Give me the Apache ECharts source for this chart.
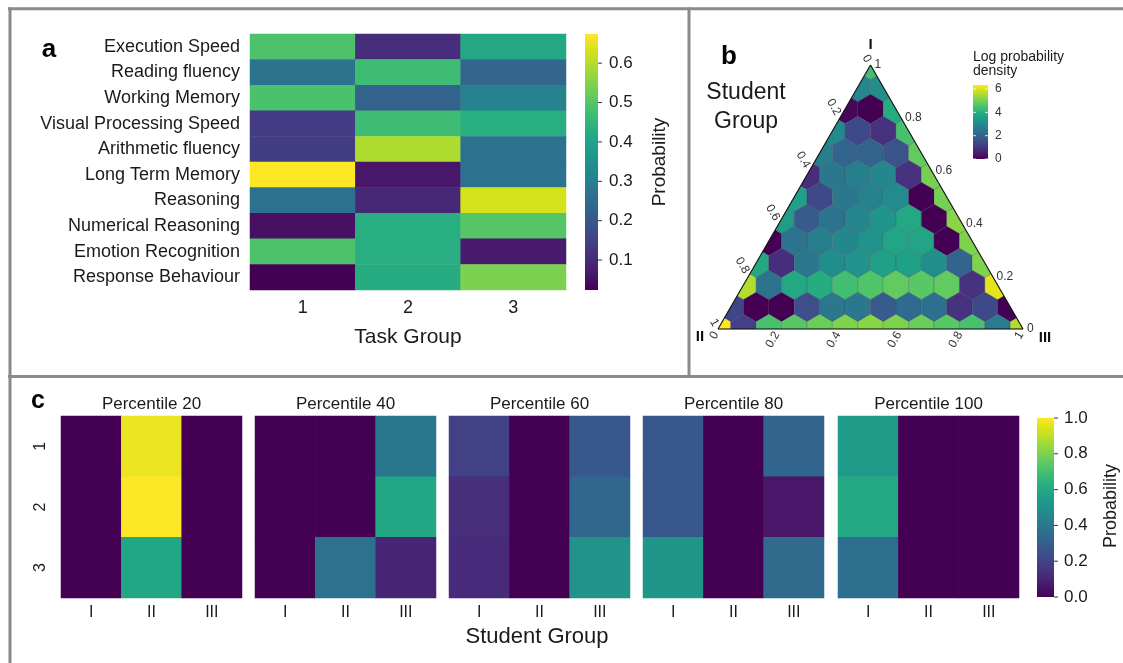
<!DOCTYPE html>
<html><head><meta charset="utf-8">
<script src="https://cdn.jsdelivr.net/npm/echarts@6/dist/echarts.min.js"></script>
<style>html,body{margin:0;padding:0;background:#fff}#c{width:1123px;height:663px}</style>
</head><body><div id="c"></div>
<script>
const FONT = "'Liberation Sans', Arial, Helvetica, sans-serif";
const TXT = '#1a1a1a';
const viridis = ['#440154','#48186a','#472d7b','#424086','#3b528b','#33638d','#2c728e','#26828e','#21918c','#1fa088','#28ae80','#3fbc73','#5ec962','#84d44b','#addc30','#d8e219','#fde725'];

// ---------- Panel a ----------
const abilities = ['Execution Speed','Reading fluency','Working Memory','Visual Processing Speed','Arithmetic fluency','Long Term Memory','Reasoning','Numerical Reasoning','Emotion Recognition','Response Behaviour'];
const taskGroups = ['1','2','3'];
const taskGroup1 = [0.49, 0.27, 0.485, 0.135, 0.14, 0.674, 0.268, 0.05, 0.49, 0.024];
const taskGroup2 = [0.105, 0.47, 0.225, 0.47, 0.593, 0.063, 0.095, 0.43, 0.43, 0.425];
const taskGroup3 = [0.41, 0.235, 0.31, 0.43, 0.268, 0.268, 0.63, 0.50, 0.07, 0.544];
const taskCbarRange = [0.024, 0.674];
const taskCbarTicks = [0.1, 0.2, 0.3, 0.4, 0.5, 0.6];

// ---------- Panel b ----------
const ternaryVertices = ['I','II','III'];
const ternaryTicks = [0, 0.2, 0.4, 0.6, 0.8, 1];
const hexSteps = 12;
// rows from vertex I (top) down to edge II-III; left to right
const hexLogDensity = [
 [4.4],
 [2.9, 3.1],
 [0.1, 0.0, 3.9],
 [3.0, 1.4, 0.9, 4.5],
 [2.7, 2.0, 2.0, 1.6, 4.8],
 [0.8, 2.5, 2.7, 2.9, 0.9, 5.0],
 [3.6, 1.4, 2.5, 2.8, 3.0, 0.0, 5.0],
 [3.5, 1.8, 2.4, 2.9, 3.3, 3.8, 0.0, 5.2],
 [0.0, 2.4, 2.7, 2.9, 3.2, 3.7, 3.7, 0.0, 5.1],
 [3.8, 0.8, 2.5, 3.1, 3.2, 3.6, 3.6, 3.1, 2.0, 5.1],
 [5.6, 2.4, 3.8, 3.9, 4.4, 4.6, 4.8, 4.7, 4.8, 0.9, 6.1],
 [1.3, 0.0, 0.0, 1.5, 2.5, 2.5, 1.8, 2.2, 2.3, 0.9, 1.4, 0.0],
 [6.4, 1.2, 4.5, 4.7, 4.9, 5.1, 5.2, 5.1, 4.9, 4.7, 4.5, 2.6, 5.6]
];
const hexCbarRange = [0, 6.35];
const hexCbarTicks = [0, 2, 4, 6];

// ---------- Panel c ----------
const percentiles = ['Percentile 20','Percentile 40','Percentile 60','Percentile 80','Percentile 100'];
const studentGroups = ['I','II','III'];
const taskRows = ['1','2','3'];
// [task group row][student group col]
const pct20 = [[0, 0.97, 0],[0, 1.0, 0],[0, 0.59, 0]];
const pct40 = [[0, 0, 0.40],[0, 0, 0.59],[0, 0.37, 0.10]];
const pct60 = [[0.19, 0, 0.27],[0.13, 0, 0.33],[0.12, 0, 0.51]];
const pct80 = [[0.27, 0, 0.32],[0.27, 0, 0.06],[0.52, 0, 0.34]];
const pct100 = [[0.54, 0, 0],[0.60, 0, 0],[0.36, 0, 0]];
const pctCbarRange = [0, 1];
const pctCbarTicks = [0, 0.2, 0.4, 0.6, 0.8, 1.0];

// ---------- helpers ----------
function tern(I, II, III) { return [III + I / 2, I]; }
function gradient() {
  return new echarts.graphic.LinearGradient(0, 1, 0, 0,
    viridis.map((c, i) => ({ offset: i / (viridis.length - 1), color: c })));
}
function clipPoly(subject, clip) {
  let out = subject;
  const cx = (clip[0][0] + clip[1][0] + clip[2][0]) / 3, cy = (clip[0][1] + clip[1][1] + clip[2][1]) / 3;
  for (let i = 0; i < clip.length; i++) {
    const a = clip[i], b = clip[(i + 1) % clip.length];
    const side = p => (b[0] - a[0]) * (p[1] - a[1]) - (b[1] - a[1]) * (p[0] - a[0]);
    const s0 = Math.sign(side([cx, cy]));
    const input = out; out = [];
    for (let j = 0; j < input.length; j++) {
      const P = input[j], Q = input[(j + 1) % input.length];
      const sp = side(P) * s0, sq = side(Q) * s0;
      if (sp >= 0) out.push(P);
      if ((sp >= 0) !== (sq >= 0)) {
        const t = sp / (sp - sq);
        out.push([P[0] + t * (Q[0] - P[0]), P[1] + t * (Q[1] - P[1])]);
      }
    }
    if (!out.length) break;
  }
  return out;
}
function colorbarSeries(xi, range) {
  return {
    type: 'custom', xAxisIndex: xi, yAxisIndex: xi, silent: true, clip: false,
    data: [[0, range[0], range[1]]],
    renderItem: (p, api) => {
      const t = api.coord([0, api.value(2)]), b = api.coord([1, api.value(1)]);
      return { type: 'rect', shape: { x: t[0], y: t[1], width: b[0] - t[0], height: b[1] - t[1] }, style: { fill: gradient() } };
    }
  };
}
function tickSeries(xi, ticks, opts) {
  return {
    type: 'custom', xAxisIndex: xi, yAxisIndex: xi, silent: true, clip: false,
    data: ticks.map(v => [v]),
    renderItem: (p, api) => {
      const v = api.value(0);
      const r = api.coord([1, v]), l = api.coord([0, v]);
      const kids = [];
      if (opts.inside) {
        const w = (r[0] - l[0]) / 5;
        kids.push({ type: 'line', shape: { x1: l[0], y1: l[1], x2: l[0] + w, y2: l[1] }, style: { stroke: 'rgba(255,255,255,0.8)', lineWidth: 1 } });
        kids.push({ type: 'line', shape: { x1: r[0] - w, y1: r[1], x2: r[0], y2: r[1] }, style: { stroke: 'rgba(255,255,255,0.8)', lineWidth: 1 } });
      } else {
        kids.push({ type: 'line', shape: { x1: r[0], y1: r[1], x2: r[0] + 4, y2: r[1] }, style: { stroke: '#333', lineWidth: 1 } });
      }
      kids.push({ type: 'text', x: r[0] + opts.gap, y: r[1], style: { text: opts.fmt(v), fontSize: opts.size, fontFamily: FONT, fill: opts.color || TXT, align: 'left', verticalAlign: 'middle' } });
      return { type: 'group', children: kids };
    }
  };
}

// ---------- layout ----------
const pctLefts = [61, 255, 449, 643, 838];
const grids = [
  { left: 250, top: 34, width: 316, height: 256 },
  { left: 585, top: 34, width: 13, height: 256 },
  { left: 718, top: 65, width: 305, height: 264 },
  { left: 973, top: 85, width: 15, height: 74 },
  ...pctLefts.map(l => ({ left: l, top: 416, width: 181, height: 182 })),
  { left: 1037, top: 418, width: 17, height: 179 }
].map(g => Object.assign({ outerBoundsMode: 'none', containLabel: false, show: false }, g));

const hidden = (gi, min, max) => ({ gridIndex: gi, type: 'value', min, max, show: false, splitLine: { show: false } });
const catAxis = (gi, data, extra) => Object.assign({
  gridIndex: gi, type: 'category', data,
  axisLine: { show: false }, axisTick: { show: false }, splitLine: { show: false }
}, extra);

const xAxes = [
  catAxis(0, taskGroups, { axisLabel: { fontSize: 18, margin: 9, color: TXT, fontFamily: FONT } }),
  hidden(1, 0, 1), hidden(2, 0, 1), hidden(3, 0, 1),
  ...pctLefts.map((l, i) => catAxis(4 + i, studentGroups, { axisLabel: { fontSize: 16, margin: 7, color: TXT, fontFamily: FONT } })),
  hidden(9, 0, 1)
];
const yAxes = [
  catAxis(0, abilities, { inverse: true, axisLabel: { fontSize: 18, margin: 10, color: TXT, fontFamily: FONT } }),
  hidden(1, taskCbarRange[0], taskCbarRange[1]), hidden(2, 0, 1), hidden(3, hexCbarRange[0], hexCbarRange[1]),
  ...pctLefts.map((l, i) => catAxis(4 + i, taskRows, { inverse: true, axisLabel: { show: i === 0, rotate: 90, fontSize: 16, margin: 12, color: TXT, fontFamily: FONT } })),
  hidden(9, pctCbarRange[0], pctCbarRange[1])
];

// ---------- data ----------
const taskCols = [taskGroup1, taskGroup2, taskGroup3];
const heatA = [];
taskCols.forEach((col, g) => col.forEach((v, j) => heatA.push([g, j, v])));

const hexData = [];
hexLogDensity.forEach((row, r) => row.forEach((v, k) => {
  const I = (hexSteps - r) / hexSteps, III = k / hexSteps, II = (r - k) / hexSteps;
  const xy = tern(I, II, III);
  hexData.push([xy[0], xy[1], v]);
}));
const corners = [tern(1, 0, 0), tern(0, 1, 0), tern(0, 0, 1)];
const pctAll = [pct20, pct40, pct60, pct80, pct100];

const series = [];
series.push({ type: 'heatmap', xAxisIndex: 0, yAxisIndex: 0, data: heatA, emphasis: { disabled: true }, itemStyle: { borderWidth: 0 } });
series.push(colorbarSeries(1, taskCbarRange));
series.push(tickSeries(1, taskCbarTicks, { gap: 11, size: 17, fmt: v => v.toFixed(1) }));
// hexbins (index 3)
series.push({
  type: 'custom', xAxisIndex: 2, yAxisIndex: 2, silent: true, clip: false, data: hexData,
  renderItem: (p, api) => {
    const c = api.coord([api.value(0), api.value(1)]);
    const d = api.size([1 / hexSteps, 0])[0];
    const R = d / Math.sqrt(3);
    const hex = [[c[0], c[1] - R], [c[0] + d / 2, c[1] - R / 2], [c[0] + d / 2, c[1] + R / 2], [c[0], c[1] + R], [c[0] - d / 2, c[1] + R / 2], [c[0] - d / 2, c[1] - R / 2]];
    const tri = corners.map(q => api.coord(q));
    return { type: 'polygon', shape: { points: clipPoly(hex, tri) }, style: { fill: api.visual('color'), stroke: 'rgba(40,40,60,0.3)', lineWidth: 0.7 } };
  }
});
// triangle outline + vertex names
const vertexOffsets = [[0, -20], [-18, 8], [22, 9]];
series.push({
  type: 'custom', xAxisIndex: 2, yAxisIndex: 2, silent: true, clip: false,
  data: ternaryVertices.map((n, i) => [i]),
  renderItem: (p, api) => {
    const i = api.value(0);
    const a = api.coord(corners[i]), b = api.coord(corners[(i + 1) % 3]);
    return { type: 'group', children: [
      { type: 'line', shape: { x1: a[0], y1: a[1], x2: b[0], y2: b[1] }, style: { stroke: '#111', lineWidth: 1.1 } },
      { type: 'text', x: a[0] + vertexOffsets[i][0], y: a[1] + vertexOffsets[i][1], style: { text: ternaryVertices[i], fontSize: 15, fontWeight: 'bold', fontFamily: FONT, fill: '#111', align: 'center', verticalAlign: 'middle' } }
    ] };
  }
});
// ternary tick labels
const tfmt = v => (v === 0 ? '0' : v === 1 ? '1' : v.toFixed(1));
series.push({
  type: 'custom', xAxisIndex: 2, yAxisIndex: 2, silent: true, clip: false,
  data: ternaryTicks.map(v => [v]),
  renderItem: (p, api) => {
    const v = api.value(0), g = 4;
    const st = { text: tfmt(v), fontSize: 12, fontFamily: FONT, fill: '#333', verticalAlign: 'middle' };
    const pI = api.coord(tern(v, 0, 1 - v));
    const pII = api.coord(tern(1 - v, v, 0));
    const pIII = api.coord(tern(0, 1 - v, v));
    return { type: 'group', children: [
      { type: 'text', x: pI[0] + g, y: pI[1], style: Object.assign({ align: 'left' }, st) },
      { type: 'text', x: pII[0] - 0.5 * g, y: pII[1] - 0.866 * g, rotation: -Math.PI / 3, style: Object.assign({ align: 'right' }, st) },
      { type: 'text', x: pIII[0] - 0.5 * g, y: pIII[1] + 0.866 * g, rotation: Math.PI / 3, style: Object.assign({ align: 'right' }, st) }
    ] };
  }
});
series.push(colorbarSeries(3, hexCbarRange));
series.push(tickSeries(3, hexCbarTicks, { gap: 7, size: 12, color: '#333', inside: true, fmt: v => String(v) }));
// panel c heatmaps (8..12)
pctAll.forEach((m, i) => {
  const d = [];
  m.forEach((row, r) => row.forEach((v, c) => d.push([c, r, v])));
  series.push({ type: 'heatmap', xAxisIndex: 4 + i, yAxisIndex: 4 + i, data: d, emphasis: { disabled: true }, itemStyle: { borderWidth: 0 } });
});
series.push(colorbarSeries(9, pctCbarRange));
series.push(tickSeries(9, pctCbarTicks, { gap: 10, size: 17, fmt: v => v.toFixed(1) }));

// ---------- frame & text annotations ----------
const BORDER = '#8a8a8a';
const txt = (x, y, text, size, extra) => ({ type: 'text', x, y, silent: true, style: Object.assign({ text, fontSize: size, fontFamily: FONT, fill: TXT, align: 'center', verticalAlign: 'middle' }, extra || {}) });
const graphic = [
  { type: 'line', silent: true, shape: { x1: 8, y1: 8.7, x2: 1123, y2: 8.7 }, style: { stroke: BORDER, lineWidth: 3 } },
  { type: 'line', silent: true, shape: { x1: 10, y1: 7.5, x2: 10, y2: 663 }, style: { stroke: BORDER, lineWidth: 3 } },
  { type: 'line', silent: true, shape: { x1: 689, y1: 7.5, x2: 689, y2: 377 }, style: { stroke: BORDER, lineWidth: 3 } },
  { type: 'line', silent: true, shape: { x1: 8, y1: 376.5, x2: 1123, y2: 376.5 }, style: { stroke: BORDER, lineWidth: 3 } },
  txt(49, 50, 'a', 26, { fontWeight: 'bold', fill: '#000' }),
  txt(408, 337, 'Task Group', 21),
  txt(660, 162, 'Probability', 19, { }),
  txt(729, 57, 'b', 26, { fontWeight: 'bold', fill: '#000' }),
  txt(746, 93, 'Student', 23),
  txt(746, 122, 'Group', 23),
  txt(973, 57, 'Log probability', 14, { align: 'left' }),
  txt(973, 71, 'density', 14, { align: 'left' }),
  txt(38, 401, 'c', 25, { fontWeight: 'bold', fill: '#000' }),
  txt(537, 637, 'Student Group', 22),
  ...percentiles.map((t, i) => txt(pctLefts[i] + 90.5, 404, t, 17))
];
graphic[6].rotation = Math.PI / 2;
graphic.push(Object.assign(txt(1111, 506, 'Probability', 18), { rotation: Math.PI / 2 }));

const option = {
  animation: false,
  backgroundColor: '#fff',
  textStyle: { fontFamily: FONT },
  grid: grids, xAxis: xAxes, yAxis: yAxes,
  visualMap: [
    { show: false, seriesIndex: 0, min: taskCbarRange[0], max: taskCbarRange[1], dimension: 2, inRange: { color: viridis } },
    { show: false, seriesIndex: 3, min: hexCbarRange[0], max: hexCbarRange[1], dimension: 2, inRange: { color: viridis } },
    { show: false, seriesIndex: [8, 9, 10, 11, 12], min: pctCbarRange[0], max: pctCbarRange[1], dimension: 2, inRange: { color: viridis } }
  ],
  series, graphic
};
const chart = echarts.init(document.getElementById('c'), null, { renderer: 'canvas' });
chart.setOption(option);
</script></body></html>
